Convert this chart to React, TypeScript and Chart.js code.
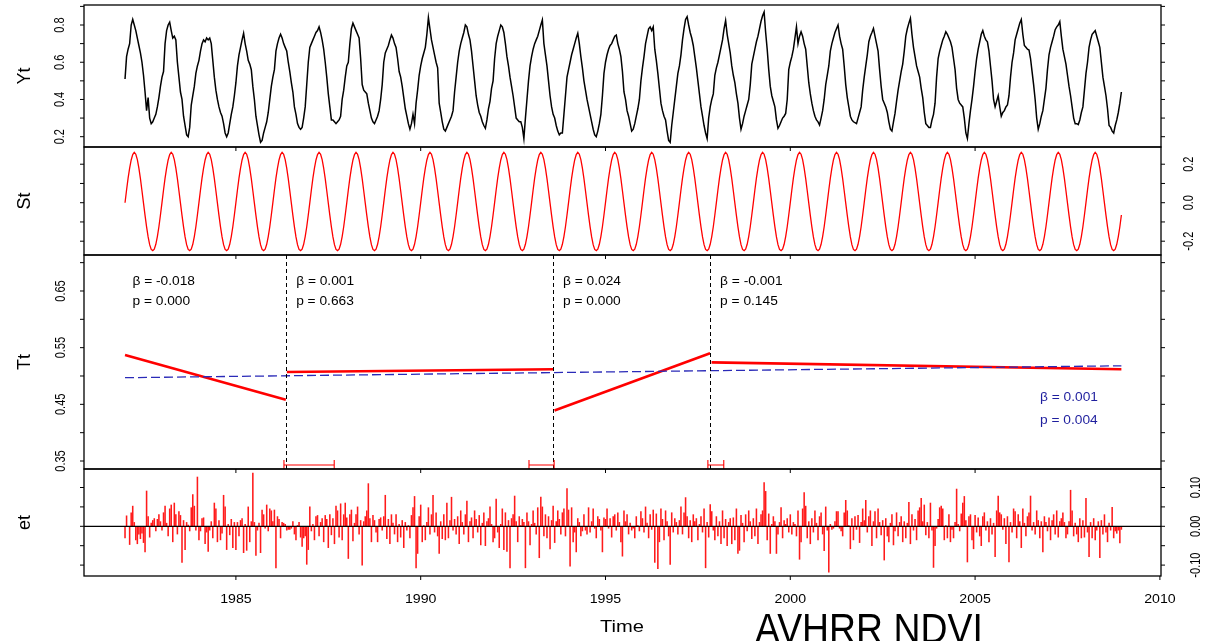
import React, { useEffect, useRef } from "react";
import { Chart, registerables } from "chart.js";

Chart.register(...registerables);

// ---------------- data ----------------
const START_YEAR = 1982;
const OBS_PER_YEAR = 24;

// Yt : observed NDVI (24 obs / year, 1982..2008)
const ytValues: number[] = [
  /*1982*/ 0.51,0.63,0.67,0.70,0.80,0.83,0.80,0.77,0.73,0.69,0.65,0.60,0.53,0.44,0.34,0.41,0.30,0.27,0.28,0.30,0.32,0.36,0.41,0.47,
  /*1983*/ 0.52,0.55,0.70,0.77,0.80,0.815,0.77,0.73,0.74,0.72,0.60,0.52,0.44,0.40,0.31,0.26,0.21,0.20,0.25,0.37,0.42,0.47,0.54,0.58,
  /*1984*/ 0.61,0.66,0.70,0.72,0.71,0.73,0.72,0.73,0.70,0.61,0.52,0.45,0.40,0.36,0.33,0.31,0.27,0.22,0.20,0.22,0.27,0.32,0.36,0.42,
  /*1985*/ 0.49,0.58,0.64,0.68,0.72,0.756,0.70,0.66,0.61,0.59,0.56,0.47,0.40,0.31,0.26,0.21,0.17,0.18,0.22,0.25,0.28,0.33,0.40,0.47,
  /*1986*/ 0.52,0.56,0.66,0.70,0.73,0.75,0.73,0.70,0.68,0.66,0.60,0.55,0.49,0.44,0.36,0.32,0.27,0.25,0.24,0.25,0.30,0.36,0.48,0.60,
  /*1987*/ 0.68,0.70,0.72,0.74,0.76,0.77,0.79,0.76,0.72,0.67,0.60,0.52,0.43,0.36,0.29,0.29,0.28,0.27,0.28,0.29,0.31,0.40,0.45,0.52,
  /*1988*/ 0.58,0.60,0.70,0.78,0.81,0.79,0.77,0.75,0.73,0.62,0.48,0.45,0.44,0.43,0.38,0.34,0.30,0.28,0.27,0.29,0.31,0.34,0.40,0.48,
  /*1989*/ 0.60,0.65,0.67,0.69,0.72,0.746,0.73,0.70,0.68,0.62,0.55,0.52,0.47,0.41,0.35,0.31,0.27,0.24,0.27,0.32,0.27,0.38,0.45,0.53,
  /*1990*/ 0.58,0.62,0.65,0.68,0.75,0.84,0.78,0.72,0.68,0.64,0.60,0.57,0.38,0.33,0.28,0.24,0.23,0.25,0.27,0.29,0.31,0.34,0.44,0.52,
  /*1991*/ 0.60,0.66,0.70,0.73,0.76,0.80,0.79,0.75,0.72,0.66,0.58,0.50,0.42,0.37,0.33,0.31,0.28,0.26,0.245,0.29,0.35,0.39,0.46,0.50,
  /*1992*/ 0.62,0.70,0.74,0.77,0.80,0.79,0.76,0.70,0.63,0.58,0.52,0.47,0.42,0.36,0.30,0.29,0.28,0.28,0.25,0.19,0.30,0.40,0.50,0.58,
  /*1993*/ 0.63,0.67,0.70,0.72,0.74,0.77,0.80,0.827,0.70,0.64,0.58,0.50,0.42,0.36,0.32,0.30,0.26,0.23,0.21,0.22,0.22,0.32,0.42,0.52,
  /*1994*/ 0.56,0.60,0.64,0.67,0.70,0.73,0.756,0.70,0.63,0.57,0.50,0.45,0.40,0.36,0.32,0.28,0.24,0.21,0.20,0.23,0.27,0.32,0.42,0.54,
  /*1995*/ 0.60,0.64,0.67,0.69,0.70,0.72,0.74,0.746,0.70,0.67,0.63,0.55,0.44,0.40,0.34,0.31,0.27,0.23,0.24,0.27,0.31,0.35,0.40,0.50,
  /*1996*/ 0.57,0.63,0.70,0.74,0.78,0.79,0.77,0.79,0.67,0.61,0.54,0.46,0.38,0.34,0.31,0.29,0.23,0.18,0.17,0.26,0.33,0.40,0.47,0.54,
  /*1997*/ 0.58,0.64,0.72,0.78,0.83,0.845,0.80,0.76,0.73,0.69,0.63,0.57,0.50,0.43,0.36,0.31,0.26,0.22,0.19,0.30,0.36,0.40,0.43,0.53,
  /*1998*/ 0.57,0.60,0.64,0.68,0.72,0.78,0.824,0.75,0.70,0.65,0.58,0.53,0.49,0.43,0.38,0.30,0.24,0.27,0.31,0.34,0.37,0.40,0.48,0.59,
  /*1999*/ 0.63,0.67,0.71,0.74,0.78,0.82,0.85,0.87,0.76,0.67,0.56,0.47,0.42,0.39,0.36,0.29,0.245,0.26,0.28,0.30,0.31,0.325,0.40,0.56,
  /*2000*/ 0.60,0.63,0.67,0.73,0.79,0.70,0.74,0.764,0.74,0.70,0.67,0.58,0.49,0.43,0.38,0.34,0.31,0.29,0.28,0.263,0.30,0.34,0.40,0.48,
  /*2001*/ 0.53,0.58,0.66,0.70,0.73,0.76,0.78,0.80,0.74,0.70,0.67,0.58,0.48,0.41,0.36,0.31,0.29,0.28,0.275,0.27,0.30,0.33,0.36,0.45,
  /*2002*/ 0.52,0.58,0.64,0.71,0.74,0.76,0.782,0.74,0.70,0.66,0.56,0.47,0.40,0.38,0.36,0.33,0.28,0.24,0.23,0.28,0.325,0.39,0.45,0.50,
  /*2003*/ 0.55,0.59,0.66,0.74,0.78,0.81,0.836,0.75,0.68,0.63,0.58,0.55,0.52,0.46,0.41,0.33,0.27,0.26,0.25,0.25,0.29,0.32,0.38,0.52,
  /*2004*/ 0.62,0.66,0.69,0.72,0.74,0.764,0.75,0.73,0.71,0.68,0.62,0.56,0.46,0.40,0.38,0.37,0.36,0.30,0.22,0.19,0.27,0.34,0.40,0.47,
  /*2005*/ 0.55,0.62,0.67,0.71,0.75,0.77,0.74,0.72,0.71,0.66,0.58,0.50,0.40,0.36,0.39,0.42,0.36,0.31,0.33,0.34,0.36,0.37,0.42,0.52,
  /*2006*/ 0.60,0.65,0.72,0.75,0.78,0.81,0.83,0.75,0.69,0.68,0.67,0.666,0.62,0.55,0.48,0.40,0.30,0.24,0.27,0.31,0.34,0.40,0.46,0.56,
  /*2007*/ 0.64,0.68,0.71,0.74,0.775,0.79,0.80,0.818,0.74,0.67,0.63,0.59,0.53,0.47,0.42,0.36,0.30,0.27,0.27,0.265,0.29,0.33,0.36,0.45,
  /*2008*/ 0.54,0.60,0.68,0.72,0.75,0.76,0.77,0.74,0.71,0.68,0.60,0.52,0.47,0.42,0.35,0.26,0.25,0.23,0.22,0.26,0.29,0.33,0.38,0.44,
];

// St : seasonal component, one year's profile (repeats every year)
const stSeason: number[] = [
  0.000,0.066,0.128,0.180,0.222,0.250,0.262,0.252,0.224,0.180,0.125,0.062,
  -0.002,-0.066,-0.126,-0.178,-0.218,-0.243,-0.249,-0.241,-0.216,-0.176,-0.125,-0.064,
];

// et : remainder
const etValues: number[] = [
  /*1982*/ -0.030,0.027,0.000,-0.047,0.035,0.052,0.010,-0.035,-0.045,-0.020,-0.032,-0.018,-0.042,-0.066,0.091,0.025,-0.028,0.008,0.015,0.020,-0.012,0.018,0.030,0.012,
  /*1983*/ -0.010,0.035,0.052,0.008,-0.025,0.045,0.055,-0.040,0.060,0.030,-0.020,0.038,0.028,-0.093,0.015,-0.060,0.010,0.003,-0.012,0.048,0.082,0.052,-0.010,0.127,
  /*1984*/ -0.035,-0.012,0.020,0.022,-0.045,-0.015,-0.065,-0.010,0.012,-0.030,0.060,0.045,-0.040,0.015,-0.035,-0.018,0.080,0.050,-0.060,0.005,-0.022,0.018,-0.055,0.010,
  /*1985*/ -0.060,0.010,-0.025,0.015,0.020,-0.068,0.005,-0.062,0.050,-0.040,0.012,0.137,0.010,-0.075,-0.010,0.008,-0.068,0.042,0.030,-0.005,0.055,-0.012,0.045,0.040,
  /*1986*/ 0.012,0.042,-0.107,0.025,0.018,-0.030,0.010,0.008,0.005,-0.010,-0.008,-0.008,-0.005,0.012,-0.020,-0.035,0.002,0.010,-0.028,-0.052,-0.030,-0.025,-0.098,-0.060,
  /*1987*/ 0.050,-0.012,0.005,-0.035,0.025,0.028,-0.025,0.010,0.020,-0.040,0.028,0.018,-0.055,0.030,-0.022,0.020,-0.045,0.052,0.040,-0.028,0.058,-0.035,0.030,0.060,
  /*1988*/ 0.022,-0.083,0.030,0.042,-0.038,0.008,0.030,0.050,-0.020,0.015,-0.100,0.012,0.025,0.040,0.110,0.020,-0.040,0.028,0.015,-0.015,-0.040,0.018,0.022,-0.010,
  /*1989*/ 0.025,0.080,-0.032,0.018,-0.045,0.030,0.008,-0.020,0.030,-0.040,0.005,-0.028,0.015,-0.055,0.010,-0.010,0.002,-0.030,0.028,0.048,0.077,-0.107,-0.070,0.025,
  /*1990*/ 0.055,-0.040,0.002,-0.035,0.010,0.048,-0.020,0.030,0.080,-0.015,0.035,-0.025,-0.070,0.012,-0.032,0.030,-0.035,0.060,-0.030,0.015,0.075,-0.010,0.018,-0.020,
  /*1991*/ 0.025,-0.045,0.040,0.010,-0.020,0.030,0.065,-0.040,0.012,0.022,-0.030,0.040,0.018,-0.015,0.028,-0.048,0.008,0.035,-0.050,0.012,0.020,0.050,0.005,-0.040,
  /*1992*/ -0.030,0.070,-0.015,-0.055,0.005,0.045,-0.060,0.035,-0.065,0.015,-0.107,0.020,0.030,0.078,0.012,-0.040,0.025,0.002,0.018,0.010,-0.107,0.035,0.012,-0.048,
  /*1993*/ 0.005,0.040,0.008,-0.020,0.048,-0.081,0.075,0.050,-0.025,0.030,-0.030,0.025,-0.058,0.015,0.052,-0.042,0.012,0.040,0.018,-0.020,0.035,0.045,-0.025,0.097,
  /*1994*/ 0.042,-0.103,0.048,-0.040,-0.015,-0.066,0.020,0.010,-0.025,-0.012,0.030,-0.010,-0.020,0.048,-0.015,0.012,0.045,-0.005,-0.030,0.025,0.018,-0.010,-0.066,0.022,
  /*1995*/ 0.018,0.045,-0.005,0.020,-0.028,0.025,0.030,-0.010,0.035,0.010,-0.040,-0.077,0.040,0.012,0.030,-0.020,0.008,-0.010,-0.005,-0.030,0.025,0.002,-0.012,0.038,
  /*1996*/ 0.020,-0.015,0.050,0.008,-0.030,0.030,-0.008,0.042,-0.093,0.032,-0.109,-0.040,0.045,0.018,-0.035,0.040,0.012,-0.025,-0.098,0.035,-0.015,0.020,0.010,-0.020,
  /*1997*/ 0.015,0.050,-0.020,0.035,0.074,0.025,-0.030,0.015,-0.040,0.030,0.012,0.020,-0.035,0.005,0.025,-0.015,0.045,-0.107,0.010,-0.028,0.056,0.038,-0.010,-0.035,
  /*1998*/ 0.025,-0.025,0.012,-0.045,0.040,-0.030,0.018,-0.050,0.010,0.020,-0.045,0.022,-0.035,0.045,-0.070,-0.062,0.028,0.008,-0.040,0.030,-0.012,0.040,0.012,-0.032,
  /*1999*/ 0.020,-0.025,0.045,-0.045,0.010,0.030,0.040,0.113,0.090,-0.035,0.032,-0.070,0.005,0.025,0.012,-0.070,-0.020,0.010,0.048,-0.030,0.015,0.005,0.020,-0.015,
  /*2000*/ 0.030,-0.020,0.010,0.005,-0.025,0.040,-0.085,-0.040,0.045,0.087,0.052,-0.030,0.012,-0.045,0.020,-0.015,0.040,0.008,-0.035,0.025,0.035,-0.020,-0.063,0.050,
  /*2001*/ -0.010,-0.118,0.005,-0.008,-0.005,0.012,0.038,0.038,-0.005,-0.012,-0.025,0.035,0.067,0.040,0.002,-0.058,0.020,-0.035,0.025,-0.008,0.028,-0.042,0.010,0.045,
  /*2002*/ 0.015,0.067,-0.015,0.025,0.040,-0.050,0.012,0.038,-0.030,0.045,0.010,-0.022,0.015,-0.087,0.020,-0.025,-0.040,0.008,0.030,-0.048,-0.012,0.035,-0.025,0.010,
  /*2003*/ 0.025,-0.040,0.012,-0.030,0.008,0.062,-0.045,0.030,-0.010,0.018,-0.035,0.040,0.048,0.072,0.012,0.055,-0.022,0.010,-0.030,0.060,-0.010,-0.106,-0.050,-0.005,
  /*2004*/ 0.018,0.048,0.052,0.045,-0.035,0.002,-0.030,0.030,-0.040,-0.008,-0.030,0.010,0.096,0.005,-0.012,0.032,0.060,0.077,0.015,-0.092,0.025,0.030,-0.035,-0.058,
  /*2005*/ 0.028,-0.015,0.022,-0.025,-0.050,0.025,0.035,-0.010,0.012,-0.040,0.020,-0.020,0.008,-0.078,0.040,0.078,0.035,0.030,-0.008,0.020,-0.045,0.025,-0.092,0.010,
  /*2006*/ -0.015,0.045,0.038,-0.030,0.030,0.012,-0.055,0.045,0.008,-0.025,0.025,0.035,0.078,-0.010,0.010,-0.020,0.040,0.015,-0.030,0.012,-0.066,0.025,0.010,-0.012,
  /*2007*/ 0.022,-0.035,0.015,0.030,-0.020,0.040,-0.028,0.012,0.020,0.035,0.010,-0.030,-0.020,0.012,0.093,0.040,-0.025,0.008,-0.020,-0.040,0.020,-0.030,0.015,-0.028,
  /*2008*/ 0.072,-0.015,-0.078,0.010,-0.030,0.020,-0.035,-0.010,0.012,-0.081,0.015,-0.020,0.030,-0.015,-0.040,0.008,-0.010,0.049,-0.030,-0.012,-0.018,-0.010,-0.043,-0.008,
];

// Tt : piecewise trend segments (start/end time and value)
const segStartX = [1982.0, 1986.38, 1993.62, 1997.87];
const segEndX = [1986.35, 1993.58, 1997.83, 2008.958];
const segStartY = [0.537, 0.507, 0.439, 0.524];
const segEndY = [0.458, 0.512, 0.540, 0.512];
const segBeta = ["-0.018", "0.001", "0.024", "-0.001"];
const segP = ["0.000", "0.663", "0.000", "0.145"];
// overall linear trend
const overallX = [1982.0, 2008.958];
const overallY = [0.497, 0.518];
const overallBeta = "0.001";
const overallP = "0.004";
// breakpoints and their confidence intervals
const breakpoints = [1986.355, 1993.58, 1997.83];
const ciLow = [1986.30, 1992.93, 1997.77];
const ciHigh = [1987.66, 1993.61, 1998.20];

// axis ticks / labels
const xTickYears = [1985, 1990, 1995, 2000, 2005, 2010];
const ytTicks = [0.2, 0.3, 0.4, 0.5, 0.6, 0.7, 0.8, 0.9];
const ytLabels = ["0.2", "0.4", "0.6", "0.8"];
const stTicks = [-0.2, -0.1, 0, 0.1, 0.2];
const stLabels = ["-0.2", "0.0", "0.2"];
const ttTicks = [0.35, 0.4, 0.45, 0.5, 0.55, 0.6, 0.65, 0.7];
const ttLabels = ["0.35", "0.45", "0.55", "0.65"];
const etTicks = [-0.1, -0.05, 0, 0.05, 0.1];
const etLabels = ["-0.10", "0.00", "0.10"];

// ---------------- layout ----------------
const W = 1205;
const H = 641;
const X_MIN = 1980.89;
const X_MAX = 2010.03;
const PAD_L = 84;
const PAD_R = 44;
const FONT = '"Liberation Sans", Arimo, Arial, Helvetica, sans-serif';

const timeAt = (i: number) => START_YEAR + i / OBS_PER_YEAR;
const ytPoints = ytValues.map((v, i) => ({ x: timeAt(i), y: v }));
const stPoints = ytValues.map((_, i) => ({ x: timeAt(i), y: stSeason[i % OBS_PER_YEAR] }));
const etPoints = etValues.map((v, i) => ({ x: timeAt(i), y: v }));

function txt(
  ctx: CanvasRenderingContext2D,
  s: string,
  x: number,
  y: number,
  size: number,
  o: { rot?: number; sx?: number; align?: CanvasTextAlign; base?: CanvasTextBaseline; color?: string } = {}
) {
  ctx.save();
  ctx.translate(x, y);
  ctx.scale(o.sx ?? 1, 1);
  ctx.rotate(o.rot ?? 0);
  ctx.font = `${size}px ${FONT}`;
  ctx.textAlign = o.align ?? "center";
  ctx.textBaseline = o.base ?? "middle";
  ctx.fillStyle = o.color ?? "#000";
  ctx.fillText(s, 0, 0);
  ctx.restore();
}

type Deco = {
  id: string;
  title: string;
  ticks: number[];
  labels: string[];
  labelX: number;
  bottomAxis?: boolean;
  extra?: (chart: any) => void;
};

function decoPlugin(d: Deco) {
  return {
    id: d.id,
    afterDraw(chart: any) {
      const ctx: CanvasRenderingContext2D = chart.ctx;
      const a = chart.chartArea;
      const xs = chart.scales.x;
      const ys = chart.scales.y;
      ctx.save();
      if (d.extra) d.extra(chart);
      // box
      ctx.strokeStyle = "#000";
      ctx.lineWidth = 1.3;
      ctx.setLineDash([]);
      ctx.strokeRect(a.left, a.top, a.right - a.left, a.bottom - a.top);
      // ticks
      ctx.beginPath();
      for (const v of d.ticks) {
        const py = ys.getPixelForValue(v);
        ctx.moveTo(a.left - 4, py);
        ctx.lineTo(a.left, py);
        ctx.moveTo(a.right, py);
        ctx.lineTo(a.right + 4, py);
      }
      for (const yr of xTickYears) {
        const px = xs.getPixelForValue(yr);
        if (!d.bottomAxis && yr === 2010) continue;
        ctx.moveTo(px, a.bottom);
        ctx.lineTo(px, a.bottom + 4);
      }
      ctx.lineWidth = 1;
      ctx.stroke();
      // tick labels (rotated, read bottom to top)
      for (const s of d.labels) {
        const py = ys.getPixelForValue(parseFloat(s));
        txt(ctx, s, d.labelX, py, 11, { rot: -Math.PI / 2, sx: 1.25 });
      }
      // panel title
      txt(ctx, d.title, 25, (a.top + a.bottom) / 2, 18, { rot: -Math.PI / 2, sx: 1.05 });
      if (d.bottomAxis) {
        for (const yr of xTickYears) {
          txt(ctx, String(yr), xs.getPixelForValue(yr), 603, 12, { sx: 1.18, base: "alphabetic" });
        }
        txt(ctx, "Time", 622, 632, 16.5, { sx: 1.22, base: "alphabetic" });
        txt(ctx, "AVHRR NDVI", 755, 643, 42, { sx: 0.89, base: "alphabetic", align: "left" });
      }
      ctx.restore();
    },
  };
}

function baseOptions(top: number, bottom: number, yMin: number, yMax: number) {
  return {
    responsive: false,
    maintainAspectRatio: false,
    animation: false as const,
    devicePixelRatio: 1,
    events: [] as any[],
    layout: { padding: { left: PAD_L, right: PAD_R, top, bottom: H - bottom } },
    plugins: { legend: { display: false }, tooltip: { enabled: false } },
    scales: {
      x: { type: "linear" as const, display: false, min: X_MIN, max: X_MAX, offset: false },
      y: { type: "linear" as const, display: false, min: yMin, max: yMax },
    },
  };
}

function ytConfig(): any {
  return {
    type: "line",
    data: {
      datasets: [
        { data: ytPoints, borderColor: "#000", borderWidth: 1.5, pointRadius: 0, tension: 0 },
      ],
    },
    options: baseOptions(5, 147, 0.1446, 0.9075),
    plugins: [decoPlugin({ id: "dYt", title: "Yt", ticks: ytTicks, labels: ytLabels, labelX: 60 })],
  };
}

function stConfig(): any {
  return {
    type: "line",
    data: {
      datasets: [
        { data: stPoints, borderColor: "#ff0000", borderWidth: 1.3, pointRadius: 0, tension: 0 },
      ],
    },
    options: baseOptions(147, 255, -0.2717, 0.2894),
    plugins: [decoPlugin({ id: "dSt", title: "St", ticks: stTicks, labels: stLabels, labelX: 1189 })],
  };
}

function ttConfig(): any {
  const segDatasets = segStartX.map((sx, i) => ({
    data: [
      { x: sx, y: segStartY[i] },
      { x: segEndX[i], y: segEndY[i] },
    ],
    borderColor: "#ff0000",
    borderWidth: 2.6,
    pointRadius: 0,
    tension: 0,
  }));
  const overall = {
    data: [
      { x: overallX[0], y: overallY[0] },
      { x: overallX[1], y: overallY[1] },
    ],
    borderColor: "#2a2ab8",
    borderWidth: 1.3,
    borderDash: [9, 4],
    pointRadius: 0,
    tension: 0,
  };
  const textX = [1982.2, 1986.63, 1993.85, 1998.1];
  const statStyle = { sx: 1.1, align: "left" as CanvasTextAlign, base: "alphabetic" as CanvasTextBaseline };
  return {
    type: "line",
    data: { datasets: [overall, ...segDatasets] },
    options: baseOptions(255, 469, 0.3359, 0.7135),
    plugins: [
      decoPlugin({
        id: "dTt",
        title: "Tt",
        ticks: ttTicks,
        labels: ttLabels,
        labelX: 61,
        extra: (chart: any) => {
          const ctx: CanvasRenderingContext2D = chart.ctx;
          const a = chart.chartArea;
          const xs = chart.scales.x;
          ctx.save();
          // breakpoint dashed lines
          ctx.strokeStyle = "#000";
          ctx.lineWidth = 1;
          ctx.setLineDash([4, 3]);
          ctx.beginPath();
          for (const b of breakpoints) {
            const px = Math.round(xs.getPixelForValue(b)) + 0.5;
            ctx.moveTo(px, a.top);
            ctx.lineTo(px, a.bottom);
          }
          ctx.stroke();
          ctx.setLineDash([]);
          // confidence interval brackets
          ctx.strokeStyle = "#ff0000";
          ctx.lineWidth = 1.1;
          ctx.beginPath();
          for (let i = 0; i < ciLow.length; i++) {
            const x1 = xs.getPixelForValue(ciLow[i]);
            const x2 = xs.getPixelForValue(ciHigh[i]);
            ctx.moveTo(x1, 465);
            ctx.lineTo(x2, 465);
            ctx.moveTo(x1, 460);
            ctx.lineTo(x1, 469);
            ctx.moveTo(x2, 460);
            ctx.lineTo(x2, 469);
          }
          ctx.stroke();
          ctx.restore();
          // segment statistics
          for (let i = 0; i < segBeta.length; i++) {
            const px = xs.getPixelForValue(textX[i]);
            txt(ctx, `β = ${segBeta[i]}`, px, 285, 12.5, statStyle);
            txt(ctx, `p = ${segP[i]}`, px, 305, 12.5, statStyle);
          }
          const bx = xs.getPixelForValue(2006.755);
          txt(ctx, `β = ${overallBeta}`, bx, 401, 12.5, { ...statStyle, color: "#1f1f9e" });
          txt(ctx, `p = ${overallP}`, bx, 424, 12.5, { ...statStyle, color: "#1f1f9e" });
        },
      }),
    ],
  };
}

function etConfig(): any {
  return {
    type: "bar",
    data: {
      datasets: [{ data: etPoints, backgroundColor: "#ff1a1a", borderWidth: 0, barThickness: 0.9 }],
    },
    options: baseOptions(469, 576, -0.1281, 0.1477),
    plugins: [
      decoPlugin({
        id: "dEt",
        title: "et",
        ticks: etTicks,
        labels: etLabels,
        labelX: 1196,
        bottomAxis: true,
        extra: (chart: any) => {
          const ctx: CanvasRenderingContext2D = chart.ctx;
          const a = chart.chartArea;
          const py = chart.scales.y.getPixelForValue(0);
          ctx.save();
          ctx.strokeStyle = "#000";
          ctx.lineWidth = 1.3;
          ctx.beginPath();
          ctx.moveTo(a.left, py);
          ctx.lineTo(a.right, py);
          ctx.stroke();
          ctx.restore();
        },
      }),
    ],
  };
}

function Panel({ make }: { make: () => any }) {
  const ref = useRef<HTMLCanvasElement | null>(null);
  useEffect(() => {
    if (!ref.current) return;
    const chart = new Chart(ref.current, make());
    return () => chart.destroy();
  }, [make]);
  return (
    <canvas
      ref={ref}
      width={W}
      height={H}
      style={{ position: "absolute", left: 0, top: 0, width: W, height: H }}
    />
  );
}

export default function App() {
  return (
    <div style={{ position: "fixed", left: 0, top: 0, width: W, height: H, background: "#fff", overflow: "hidden" }}>
      <Panel make={ytConfig} />
      <Panel make={stConfig} />
      <Panel make={ttConfig} />
      <Panel make={etConfig} />
    </div>
  );
}
